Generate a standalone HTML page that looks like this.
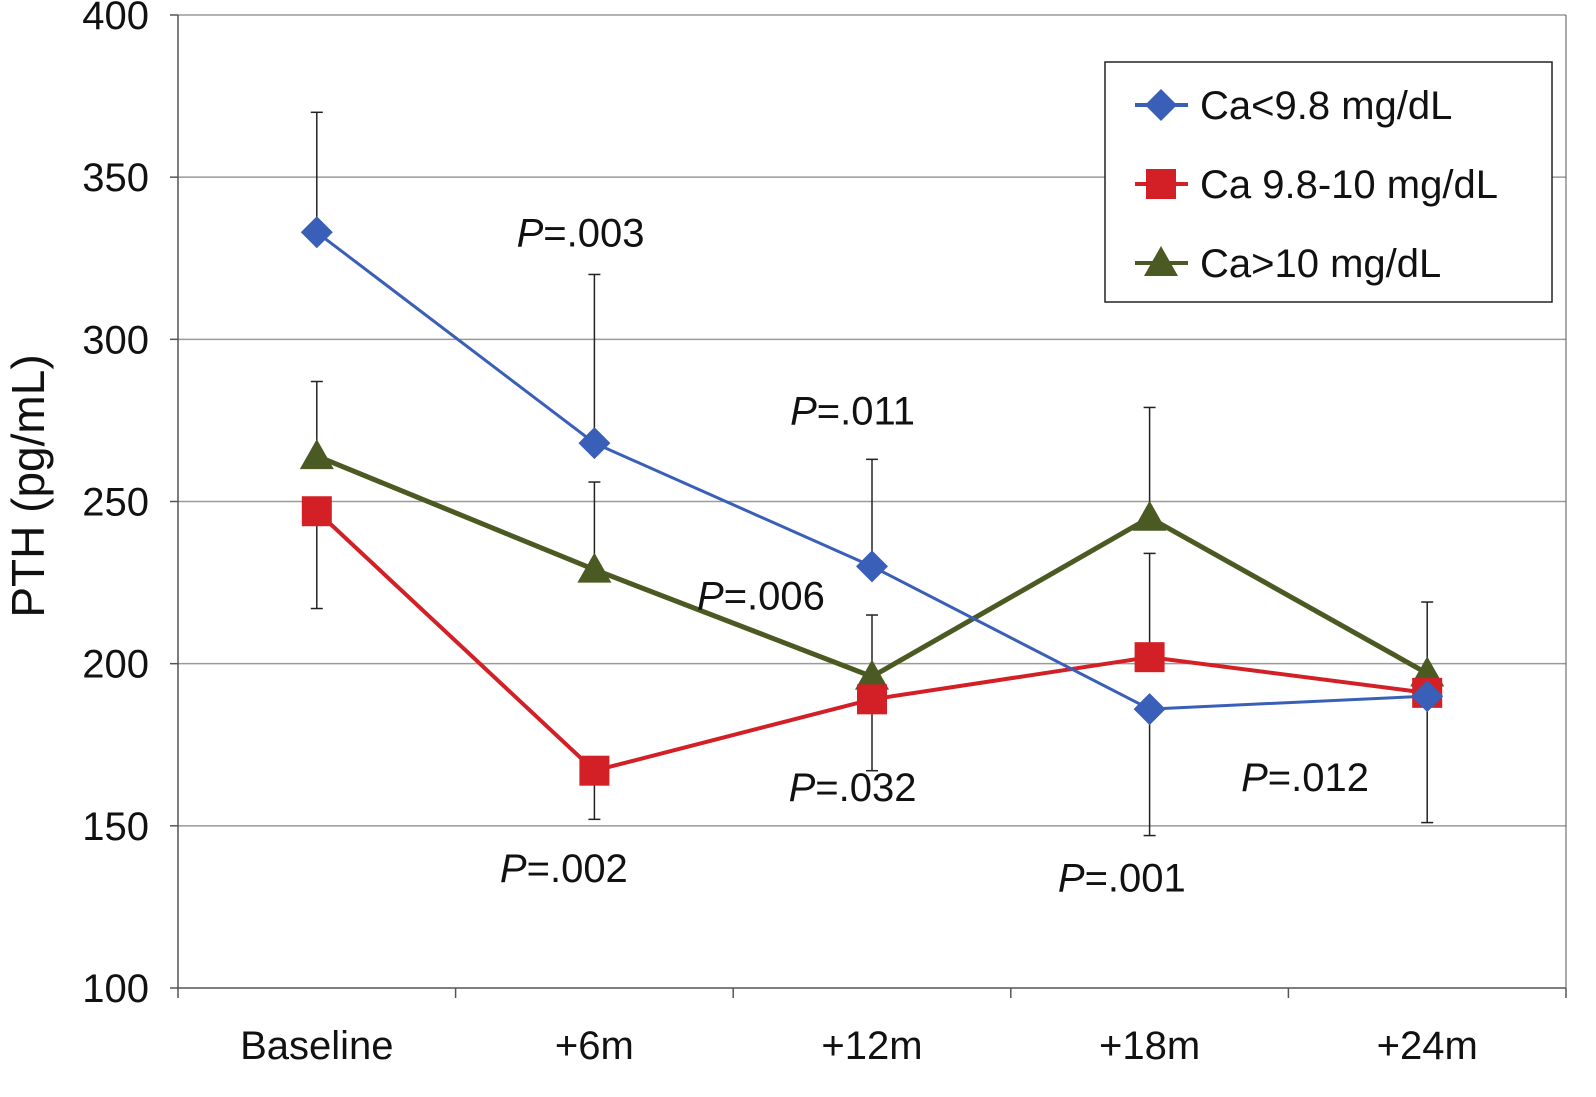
<!DOCTYPE html>
<html><head><meta charset="utf-8"><style>
html,body{margin:0;padding:0;background:#fff;}
svg{display:block;font-family:"Liberation Sans",Arial,sans-serif;}
</style></head><body>
<svg id="chart" width="1596" height="1097" viewBox="0 0 1596 1097"></svg>
<script>
const categories = ["Baseline","+6m","+12m","+18m","+24m"];
const yTicks = [100,150,200,250,300,350,400];
const blueVals = [333,268,230,186,190];
const redVals = [247,167,189,202,191];
const greenVals = [264,229,196,245,197];
const blueErr = [370,320,263,147,null];
const redErr = [217,152,167,234,151];
const greenErr = [287,256,215,279,219];
const seriesNames = ["Ca<9.8 mg/dL","Ca 9.8-10 mg/dL","Ca>10 mg/dL"];
const pLabels = [".003",".011",".006",".032",".002",".001",".012"];
const pLabelX = [0.95,1.93,1.6,1.93,0.89,2.9,3.56];
const pLabelY = [333,278,221,162,137,134,165];

const NS="http://www.w3.org/2000/svg";
const svg=document.getElementById('chart');
const L=178,R=1566,T=15,B=988;
const x=i=>L+(R-L)/categories.length*(i+0.5);
const y=v=>B-(v-100)/300*(B-T);
function el(tag,attrs,parent){const e=document.createElementNS(NS,tag);for(const k in attrs)e.setAttribute(k,attrs[k]);(parent||svg).appendChild(e);return e;}

yTicks.forEach(v=>{
  if(v>100){const g=el('line',{x1:L,x2:R,y1:y(v),y2:y(v),stroke:'#9a9a9a','stroke-width':1.5});
  
  }
  const tk=el('line',{x1:L-8,x2:L,y1:y(v),y2:y(v),stroke:'#555','stroke-width':1.5});
  
  
  const t=el('text',{x:149,y:y(v)+14,'text-anchor':'end','font-size':40,fill:'#111'});
  t.textContent=v;
  
  
});
const ya=el('line',{x1:L,x2:L,y1:T,y2:B,stroke:'#555','stroke-width':1.5});


const xa=el('line',{x1:L,x2:R,y1:B,y2:B,stroke:'#555','stroke-width':1.5});


const rb=el('line',{x1:R,x2:R,y1:T,y2:B,stroke:'#555','stroke-width':1});


for(let i=0;i<=categories.length;i++){
  const xx=L+(R-L)/categories.length*i;
  const tk=el('line',{x1:xx,x2:xx,y1:B,y2:B+10,stroke:'#555','stroke-width':1.5});
  
  
}
categories.forEach((c,i)=>{
  const t=el('text',{x:x(i),y:1059,'text-anchor':'middle','font-size':40,fill:'#111'});
  t.textContent=c;
  
  
});
const yt=el('text',{x:0,y:0,'text-anchor':'middle','font-size':46,fill:'#111',transform:'translate(44,486) rotate(-90)'});
yt.textContent='PTH (pg/mL)';



function errBars(err,vals,name){
  err.forEach((e,i)=>{
    if(e==null)return;
    const g=el('g',{stroke:'#222','stroke-width':1.5});
    
    
    el('line',{x1:x(i),x2:x(i),y1:y(vals[i]),y2:y(e)},g);
    el('line',{x1:x(i)-6,x2:x(i)+6,y1:y(e),y2:y(e)},g);
  });
}
errBars(blueErr,blueVals,'blue');
errBars(redErr,redVals,'red');
errBars(greenErr,greenVals,'green');

function marker(type,cx,cy,color,parent){
  if(type==='d')return el('polygon',{points:`${cx},${cy-16} ${cx+16},${cy} ${cx},${cy+16} ${cx-16},${cy}`,fill:color},parent);
  if(type==='s')return el('rect',{x:cx-15,y:cy-15,width:30,height:30,fill:color},parent);
  return el('polygon',{points:`${cx},${cy-17} ${cx+17},${cy+13} ${cx-17},${cy+13}`,fill:color},parent);
}
function series(vals,color,w,type,name){
  const g=el('g',{});
  
  
  el('polyline',{points:vals.map((v,i)=>x(i)+','+y(v)).join(' '),fill:'none',stroke:color,'stroke-width':w},g);
  vals.forEach((v,i)=>{
    const m=marker(type,x(i),y(v),color,g);
    
    
  });
}
series(greenVals,'#4a5a22',5,'t','green');
series(redVals,'#d22026',4,'s','red');
series(blueVals,'#3a5fb8',3,'d','blue');

pLabels.forEach((p,i)=>{
  const t=el('text',{x:x(0)+(x(1)-x(0))*pLabelX[i],y:y(pLabelY[i])+14,'text-anchor':'middle','font-size':40,fill:'#111'});
  const it=el('tspan',{'font-style':'italic'},t);it.textContent='P';
  const r=el('tspan',{},t);r.textContent='='+p;
  
  
});

const lg=el('g',{});


el('rect',{x:1105,y:62,width:447,height:240,fill:'#fff',stroke:'#222','stroke-width':1.5},lg);
const lcolors=['#3a5fb8','#d22026','#4a5a22'];const ltypes=['d','s','t'];
seriesNames.forEach((n,i)=>{
  const ly=105+i*79;
  const g=el('g',{},lg);
  
  
  el('line',{x1:1135,x2:1188,y1:ly,y2:ly,stroke:lcolors[i],'stroke-width':4},g);
  marker(ltypes[i],1161,ly,lcolors[i],g);
  const t=el('text',{x:1200,y:ly+14,'font-size':40,fill:'#111'},g);t.textContent=n;
});
</script>
</body></html>
